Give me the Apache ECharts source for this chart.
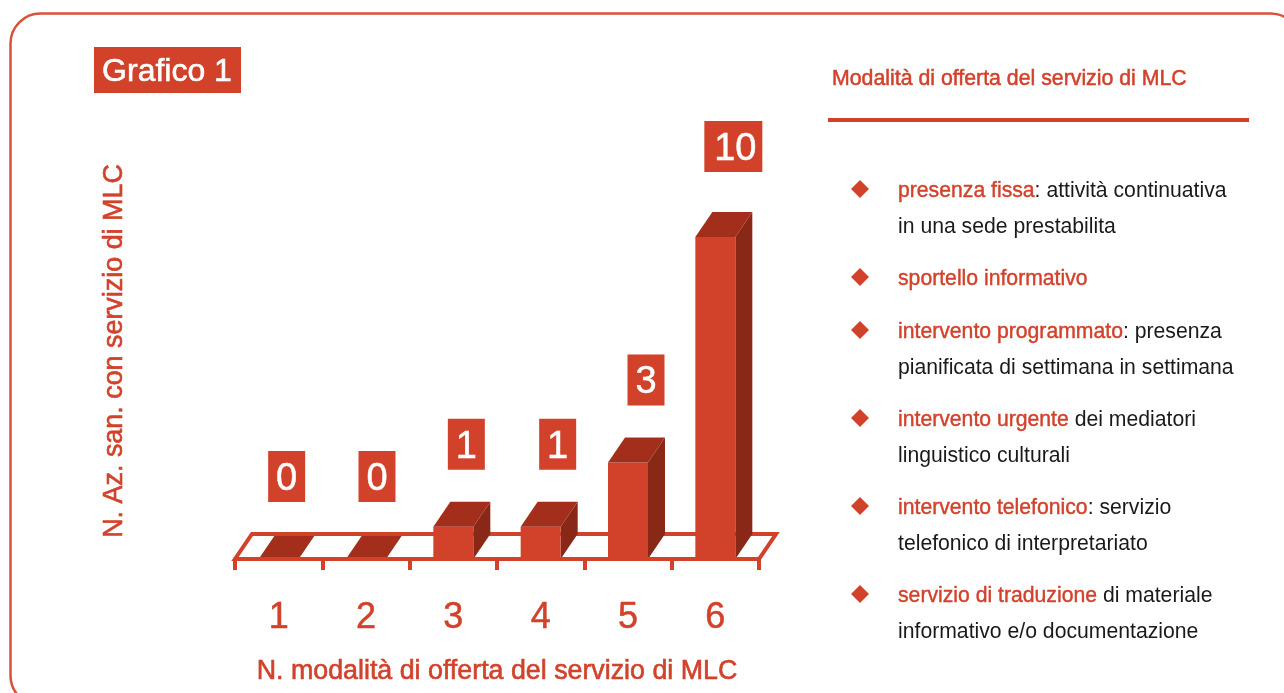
<!DOCTYPE html>
<html>
<head>
<meta charset="utf-8">
<title>Grafico 1</title>
<script src="https://cdn.jsdelivr.net/npm/echarts@6/dist/echarts.min.js"></script>
<style>
  html, body { margin: 0; padding: 0; background: #fff; }
  #main { width: 1284px; height: 693px; }
</style>
</head>
<body>
<div id="main"></div>
<script>
const categories = ["1", "2", "3", "4", "5", "6"];
const values = [0, 0, 1, 1, 3, 10];

const chartTitle = "Grafico 1";
const xName = "N. modalità di offerta del servizio di MLC";
const yName = "N. Az. san. con servizio di MLC";
const panelTitle = "Modalità di offerta del servizio di MLC";
// [testo in rosso, resto della riga, seconda riga]
const panelItems = [
  ["presenza fissa", ": attività continuativa", "in una sede prestabilita"],
  ["sportello informativo", "", ""],
  ["intervento programmato", ": presenza", "pianificata di settimana in settimana"],
  ["intervento urgente", " dei mediatori", "linguistico culturali"],
  ["intervento telefonico", ": servizio", "telefonico di interpretariato"],
  ["servizio di traduzione", " di materiale", "informativo e/o documentazione"],
];

const RED = "#d2412a";
const TOP = "#a32e1c";
const SIDE = "#8a2817";
const FONT = '"Liberation Sans", Arial, sans-serif';
const DEPTH_X = 17;
const DEPTH_Y = 25;
const BAR_W = 40;

const chart = echarts.init(document.getElementById("main"), null, { renderer: "canvas" });

function renderFloor(params, api) {
  const l = api.coord([0, 0]);
  const r = api.coord([5, 0]);
  const band = api.size([1, 0])[0];
  const x0 = l[0] - band / 2;
  const x1 = r[0] + band / 2;
  const y = l[1];
  return {
    type: "polygon",
    shape: {
      points: [[x0, y], [x0 + DEPTH_X, y - DEPTH_Y], [x1 + DEPTH_X, y - DEPTH_Y], [x1, y]],
    },
    style: { fill: "#fff", stroke: RED, lineWidth: 4, lineJoin: "miter" },
  };
}

// spostamento orizzontale delle etichette rispetto al centro della colonna
const labelShift = [8, 11, 13, 17, 18, 18];

function renderBar(params, api) {
  const i = api.value(0);
  const v = api.value(1);
  const base = api.coord([i, 0]);
  const top = api.coord([i, v]);
  const x0 = base[0] - BAR_W / 2;
  const x1 = base[0] + BAR_W / 2;
  const children = [];
  if (v > 0) {
    children.push({
      type: "polygon",
      shape: { points: [[x1, base[1]], [x1 + DEPTH_X, base[1] - DEPTH_Y], [x1 + DEPTH_X, top[1] - DEPTH_Y], [x1, top[1]]] },
      style: { fill: SIDE },
    });
    children.push({
      type: "rect",
      shape: { x: x0, y: top[1], width: BAR_W, height: base[1] - top[1] },
      style: { fill: RED },
    });
    children.push({
      type: "polygon",
      shape: { points: [[x0, top[1]], [x0 + DEPTH_X, top[1] - DEPTH_Y], [x1 + DEPTH_X, top[1] - DEPTH_Y], [x1, top[1]]] },
      style: { fill: TOP },
    });
  } else {
    // colonna a zero: solo la faccia superiore, dentro le linee del piano
    const k = DEPTH_X / DEPTH_Y;
    children.push({
      type: "polygon",
      shape: {
        points: [
          [x0 + 2 * k, top[1] - 2],
          [x0 + (DEPTH_Y - 2) * k, top[1] - DEPTH_Y + 2],
          [x1 + (DEPTH_Y - 2) * k, top[1] - DEPTH_Y + 2],
          [x1 + 2 * k, top[1] - 2],
        ],
      },
      style: { fill: TOP },
    });
  }
  const wide = v >= 10;
  const boxW = wide ? 58 : 37;
  const boxH = 51;
  const boxBottom = top[1] - DEPTH_Y - (wide ? 40 : 32);
  const cx = base[0] + labelShift[i];
  children.push({
    type: "rect",
    shape: { x: cx - boxW / 2, y: boxBottom - boxH, width: boxW, height: boxH },
    style: { fill: RED },
  });
  children.push({
    type: "text",
    style: {
      x: cx + (wide ? 2 : 0),
      y: boxBottom - boxH / 2 + 3,
      text: String(v),
      fill: "#fff",
      font: '38px ' + FONT,
      textAlign: "center",
      textVerticalAlign: "middle",
      stroke: "#fff",
      lineWidth: 0.5,
    },
  });
  return { type: "group", children };
}

const graphics = [
  {
    type: "rect",
    shape: { x: 10.5, y: 13.5, width: 1290, height: 692, r: 30 },
    style: { fill: "none", stroke: "#d9503c", lineWidth: 2.5 },
    z: 0,
  },
  {
    type: "rect",
    shape: { x: 94, y: 47, width: 147, height: 46 },
    style: { fill: RED },
  },
  {
    type: "text",
    style: {
      x: 167, y: 72, text: chartTitle, fill: "#fff", font: '32px ' + FONT,
      textAlign: "center", textVerticalAlign: "middle",
      stroke: "#fff", lineWidth: 0.6,
    },
  },
  {
    type: "text",
    style: {
      x: 832, y: 79, text: panelTitle, fill: RED, font: '21.3px ' + FONT,
      textVerticalAlign: "middle", stroke: RED, lineWidth: 0.5,
    },
  },
  {
    type: "rect",
    shape: { x: 828, y: 118, width: 421, height: 4 },
    style: { fill: RED },
  },
];

const itemY = [191, 279, 332, 420, 508, 596];
const lineGap = 36.5;
panelItems.forEach((item, i) => {
  const y = itemY[i];
  graphics.push({
    type: "polygon",
    shape: { points: [[860, y - 11], [869, y - 2], [860, y + 7], [851, y - 2]] },
    style: { fill: RED },
  });
  graphics.push({
    type: "text",
    style: {
      x: 898,
      y,
      text: "{a|" + item[0] + "}{b|" + item[1] + "}",
      textVerticalAlign: "middle",
      rich: {
        a: { fill: RED, font: '21.2px ' + FONT, stroke: RED, lineWidth: 0.4 },
        b: { fill: "#1a1a1a", font: '21.2px ' + FONT },
      },
    },
  });
  if (item[2]) {
    graphics.push({
      type: "text",
      style: {
        x: 898, y: y + lineGap, text: item[2], fill: "#1a1a1a",
        font: '21.2px ' + FONT, textVerticalAlign: "middle",
      },
    });
  }
});

chart.setOption({
  animation: false,
  backgroundColor: "#fff",
  grid: { left: 235, width: 524, top: 237, height: 322 },
  xAxis: {
    type: "category",
    data: categories,
    boundaryGap: true,
    name: xName,
    nameLocation: "middle",
    nameGap: 99,
    nameTextStyle: {
      color: RED, fontFamily: FONT, fontSize: 26.8,
      textBorderColor: RED, textBorderWidth: 0.6,
    },
    axisLine: { show: true, lineStyle: { color: RED, width: 4 } },
    axisTick: { show: true, length: 11, lineStyle: { color: RED, width: 4 } },
    axisLabel: {
      color: RED, fontFamily: FONT, fontSize: 36, margin: 41,
      textBorderColor: RED, textBorderWidth: 0.5,
    },
    z: 5,
  },
  yAxis: {
    type: "value",
    min: 0,
    max: 10,
    name: yName,
    nameLocation: "middle",
    nameGap: 107,
    nameRotate: 90,
    nameTextStyle: {
      color: RED, fontFamily: FONT, fontSize: 26.9,
      textBorderColor: RED, textBorderWidth: 0.6,
      padding: [0, 0, 0, 94],
    },
    axisLine: { show: false },
    axisTick: { show: false },
    axisLabel: { show: false },
    splitLine: { show: false },
  },
  graphic: graphics,
  series: [
    {
      type: "custom",
      coordinateSystem: "cartesian2d",
      renderItem: renderFloor,
      clip: false,
      silent: true,
      data: [[0, 0]],
      encode: { x: 0, y: 1 },
      z: 1,
    },
    {
      type: "custom",
      coordinateSystem: "cartesian2d",
      renderItem: renderBar,
      clip: false,
      data: values.map((v, i) => [i, v]),
      encode: { x: 0, y: 1 },
      z: 2,
    },
  ],
});
</script>
</body>
</html>
